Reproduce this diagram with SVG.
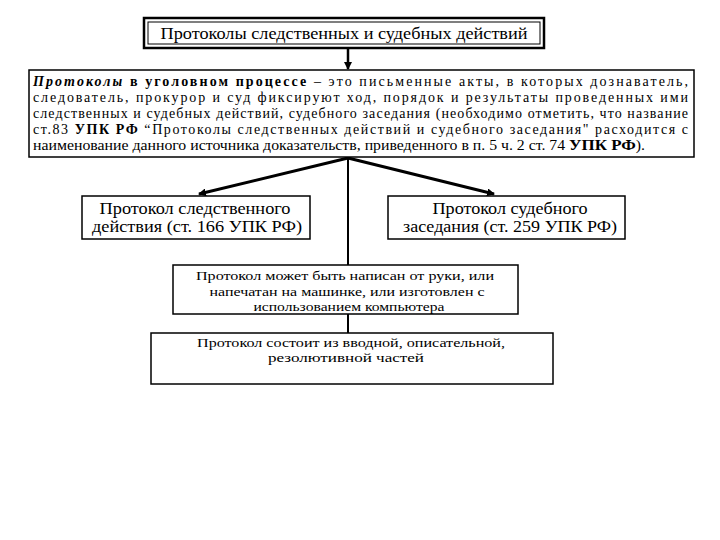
<svg xmlns="http://www.w3.org/2000/svg" width="720" height="540" viewBox="0 0 720 540">
<style>
text{font-family:"Liberation Serif","Times New Roman",serif;fill:#000}
.box{fill:#fff;stroke:#000;stroke-width:1.5}
.t16{font-size:16.5px;text-anchor:middle}
.t14{font-size:14px}
.t13{font-size:13.5px;text-anchor:middle}
.conn{stroke:#000;fill:none}
</style>
<defs>
<marker id="ah" markerWidth="8" markerHeight="8" refX="7" refY="4" orient="auto" markerUnits="userSpaceOnUse">
<path d="M0,0 L8,4 L0,8 Z" fill="#000"/>
</marker>
</defs>
<rect width="720" height="540" fill="#fff"/>
<g id="connectors">
<line class="conn" x1="348" y1="49" x2="348" y2="69" stroke-width="2.5" marker-end="url(#ah)"/>
<line class="conn" x1="348" y1="157" x2="348" y2="333" stroke-width="2"/>
<line class="conn" x1="348" y1="158" x2="199" y2="194" stroke-width="3" marker-end="url(#ah)"/>
<line class="conn" x1="348" y1="158" x2="494" y2="194" stroke-width="3" marker-end="url(#ah)"/>
</g>
<g id="title">
<rect x="144" y="18" width="400" height="30" fill="#fff" stroke="#000" stroke-width="2.5"/>
<rect x="148" y="22" width="392" height="22" fill="none" stroke="#000" stroke-width="1"/>
<text class="t16" x="344" y="39" textLength="367" lengthAdjust="spacingAndGlyphs">Протоколы следственных и судебных действий</text>
</g>
<g id="definition">
<rect class="box" x="29" y="70" width="665" height="87"/>
<text class="t14" x="33" y="86" textLength="655" lengthAdjust="spacing"><tspan font-weight="bold" font-style="italic">Протоколы</tspan> <tspan font-weight="bold">в уголовном процессе</tspan> – это письменные акты, в которых дознаватель,</text>
<text class="t14" x="33" y="102" textLength="655" lengthAdjust="spacing">следователь, прокурор и суд фиксируют ход, порядок и результаты проведенных ими</text>
<text class="t14" x="33" y="118" textLength="655" lengthAdjust="spacing">следственных и судебных действий, судебного заседания (необходимо отметить, что название</text>
<text class="t14" x="33" y="134" textLength="655" lengthAdjust="spacing">ст.83 <tspan font-weight="bold">УПК РФ</tspan> “Протоколы следственных действий и судебного заседания" расходится с</text>
<text class="t14" x="33" y="150" textLength="612" lengthAdjust="spacingAndGlyphs">наименование данного источника доказательств, приведенного в п. 5 ч. 2 ст. 74 <tspan font-weight="bold" font-size="15px">УПК РФ</tspan>).</text>
</g>
<g id="investigative">
<rect class="box" x="82" y="196" width="228" height="43"/>
<text class="t16" x="195" y="214" textLength="191" lengthAdjust="spacingAndGlyphs">Протокол следственного</text>
<text class="t16" x="197" y="232" textLength="210" lengthAdjust="spacingAndGlyphs">действия (ст. 166 УПК РФ)</text>
</g>
<g id="court">
<rect class="box" x="388" y="196" width="237" height="43"/>
<text class="t16" x="510" y="214" textLength="155" lengthAdjust="spacingAndGlyphs">Протокол судебного</text>
<text class="t16" x="510" y="232" textLength="214" lengthAdjust="spacingAndGlyphs">заседания (ст. 259 УПК РФ)</text>
</g>
<g id="form">
<rect class="box" x="173" y="265" width="345" height="49"/>
<text class="t13" x="345" y="280" textLength="298" lengthAdjust="spacingAndGlyphs">Протокол может быть написан от руки, или</text>
<text class="t13" x="347" y="296" textLength="275" lengthAdjust="spacingAndGlyphs">напечатан на машинке, или изготовлен с</text>
<text class="t13" x="349" y="311" textLength="191" lengthAdjust="spacingAndGlyphs">использованием компьютера</text>
</g>
<g id="structure">
<rect class="box" x="151" y="333" width="402" height="51"/>
<text class="t13" x="351" y="347" textLength="308" lengthAdjust="spacingAndGlyphs">Протокол состоит из вводной, описательной,</text>
<text class="t13" x="346" y="362" textLength="156" lengthAdjust="spacingAndGlyphs">резолютивной частей</text>
</g>
</svg>
